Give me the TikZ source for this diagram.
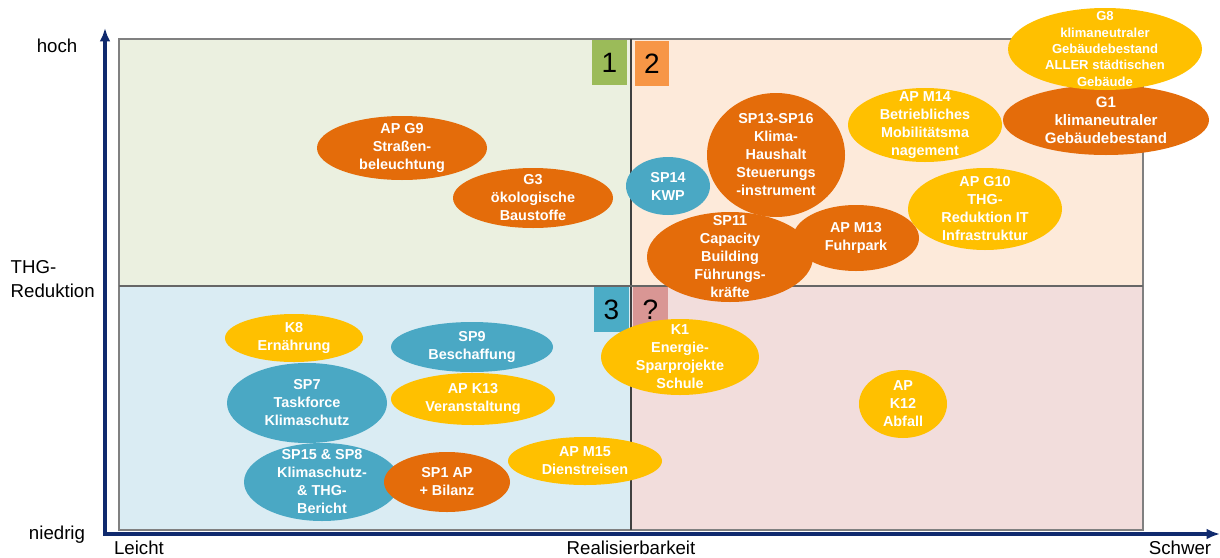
\documentclass[tikz,border=0pt]{standalone}
\usepackage{fontspec}
\setmainfont{Liberation Sans}
\usetikzlibrary{shapes.geometric,arrows.meta}
\definecolor{achsenblau}{RGB}{16,42,110}
\definecolor{qgruen}{RGB}{235,240,224}
\definecolor{qorange}{RGB}{253,234,218}
\definecolor{qblau}{RGB}{218,236,243}
\definecolor{qrosa}{RGB}{242,221,220}
\definecolor{dunkelorange}{RGB}{228,108,10}
\definecolor{gold}{RGB}{255,192,0}
\definecolor{tuerkis}{RGB}{74,168,196}
\definecolor{nrgruen}{RGB}{155,187,89}
\definecolor{nrorange}{RGB}{247,150,70}
\definecolor{nrblau}{RGB}{75,172,198}
\definecolor{nrrosa}{RGB}{217,150,148}

\tikzset{
  mass/.style={ellipse, inner sep=0pt},
  dkor/.style={mass, fill=dunkelorange},
  gelb/.style={mass, fill=gold},
  blau/.style={mass, fill=tuerkis},
  sz/.style 2 args={minimum width=#1*0.75pt, minimum height=#2*0.75pt},
  txt/.style={text=white, align=center, inner sep=0pt,
    font=\bfseries\fontsize{10.8}{13.5}\selectfont},
  nrbox/.style={inner sep=0pt, minimum width=26pt, minimum height=34pt,
    font=\fontsize{21}{21}\selectfont},
  achsentext/.style={font=\fontsize{14}{18}\selectfont}
}

\begin{document}
\begin{tikzpicture}[x=0.75pt,y=-0.75pt]
\useasboundingbox (0,0) rectangle (1220,557);
% Quadranten
\fill[qgruen] (119,39) rectangle (631,286);
\fill[qorange] (631,39) rectangle (1143,286);
\fill[qblau] (119,286) rectangle (631,530);
\fill[qrosa] (631,286) rectangle (1143,530);
\draw[gray, line width=0.8pt] (119,39) rectangle (1143,530);
\draw[black!75, line width=0.8pt] (631,39) -- (631,530);
\draw[black!60, line width=0.8pt] (119,286) -- (1143,286);
% Achsen
\coordinate (yspitze) at (105,28);
\coordinate (ursprung) at (105,534);
\coordinate (xspitze) at (1220,534);
\draw[achsenblau, line width=2.6pt, {Latex[length=10pt,width=8pt]}-{Latex[length=10pt,width=8pt]}]
  (yspitze) -- (ursprung) -- (xspitze);
\node[achsentext] (hoch) at (57,46) {hoch};
\node[achsentext, align=left, anchor=west] (thg) at (6,279) {THG-\\Reduktion};
\node[achsentext] (niedrig) at (57,535) {niedrig};
\node[achsentext] (leicht) at (139,548) {Leicht};
\node[achsentext] (realis) at (631,548) {Realisierbarkeit};
\node[achsentext] (schwer) at (1180,548) {Schwer};
% Nummern
\node[nrbox, fill=nrgruen] (n1) at (609.5,62.5) {1};
\node[nrbox, fill=nrorange] (n2) at (652,63.5) {2};
\node[nrbox, fill=nrblau] (n3) at (611.5,309.5) {3};
\node[nrbox, fill=nrrosa] (nfrage) at (650.5,309.5) {?};
% oben links
\node[dkor, sz={170}{64}] (g9) at (402,148) {};
\node[txt] (g9t) at (g9) {AP G9\\Straßen-\\beleuchtung};
\node[dkor, sz={160}{60}] (g3) at (533,198) {};
\node[txt] (g3t) at (g3) {G3\\ökologische\\Baustoffe};
% oben rechts
\node[blau, sz={84}{58}] (sp14) at (668,186) {};
\node[txt] (sp14t) at (sp14) {SP14\\KWP};
\node[dkor, sz={138}{124}] (sp13) at (776,155) {};
\node[txt] (sp13t) at (sp13) {SP13-SP16\\Klima-\\Haushalt\\Steuerungs\\-instrument};
\node[dkor, sz={126}{66}] (m13) at (856,238) {};
\node[txt] (m13t) at (m13) {AP M13\\Fuhrpark};
\node[dkor, sz={166}{90}] (sp11) at (730,257) {};
\node[txt] (sp11t) at (sp11) {SP11\\Capacity\\Building\\Führungs-\\kräfte};
\node[gelb, sz={154}{74}] (m14) at (925,125) {};
\node[txt] (m14t) at (m14) {AP M14\\Betriebliches\\Mobilitätsma\\nagement};
\node[gelb, sz={154}{82}] (g10) at (985,209) {};
\node[txt] (g10t) at (g10) {AP G10\\THG-\\Reduktion IT\\Infrastruktur};
\node[dkor, sz={206}{70}] (g1) at (1106,120) {};
\node[txt, font=\bfseries\fontsize{11.3}{13.5}\selectfont] (g1t) at (g1) {G1\\klimaneutraler\\Gebäudebestand};
\node[gelb, sz={194}{82}] (g8) at (1105,49) {};
\node[txt, font=\bfseries\fontsize{9.8}{12.2}\selectfont] (g8t) at (g8) {G8\\klimaneutraler\\Gebäudebestand\\ALLER städtischen\\Gebäude};
% unten links
\node[gelb, sz={138}{48}] (k8) at (294,338) {};
\node[txt] (k8t) at (k8) {K8\\Ernährung};
\node[blau, sz={162}{50}] (sp9) at (472,347) {};
\node[txt] (sp9t) at (sp9) {SP9\\Beschaffung};
\node[blau, sz={156}{78}] (sp15) at (322,482) {};
\node[txt] (sp15t) at (sp15) {SP15 \& SP8\\Klimaschutz-\\\& THG-\\Bericht};
\node[blau, sz={160}{80}] (sp7) at (307,403) {};
\node[txt] (sp7t) at (sp7) {SP7\\Taskforce\\Klimaschutz};
\node[gelb, sz={164}{52}] (k13) at (473,399) {};
\node[txt] (k13t) at (k13) {AP K13\\Veranstaltung};
\node[dkor, sz={126}{60}] (sp1) at (447,482) {};
\node[txt] (sp1t) at (sp1) {SP1 AP\\+ Bilanz};
\node[gelb, sz={154}{48}] (m15) at (585,461) {};
\node[txt] (m15t) at (m15) {AP M15\\Dienstreisen};
% unten rechts
\node[gelb, sz={158}{76}] (k1) at (680,357) {};
\node[txt] (k1t) at (k1) {K1\\Energie-\\Sparprojekte\\Schule};
\node[gelb, sz={88}{68}] (k12) at (903,404) {};
\node[txt] (k12t) at (k12) {AP\\K12\\Abfall};
\end{tikzpicture}
\end{document}
